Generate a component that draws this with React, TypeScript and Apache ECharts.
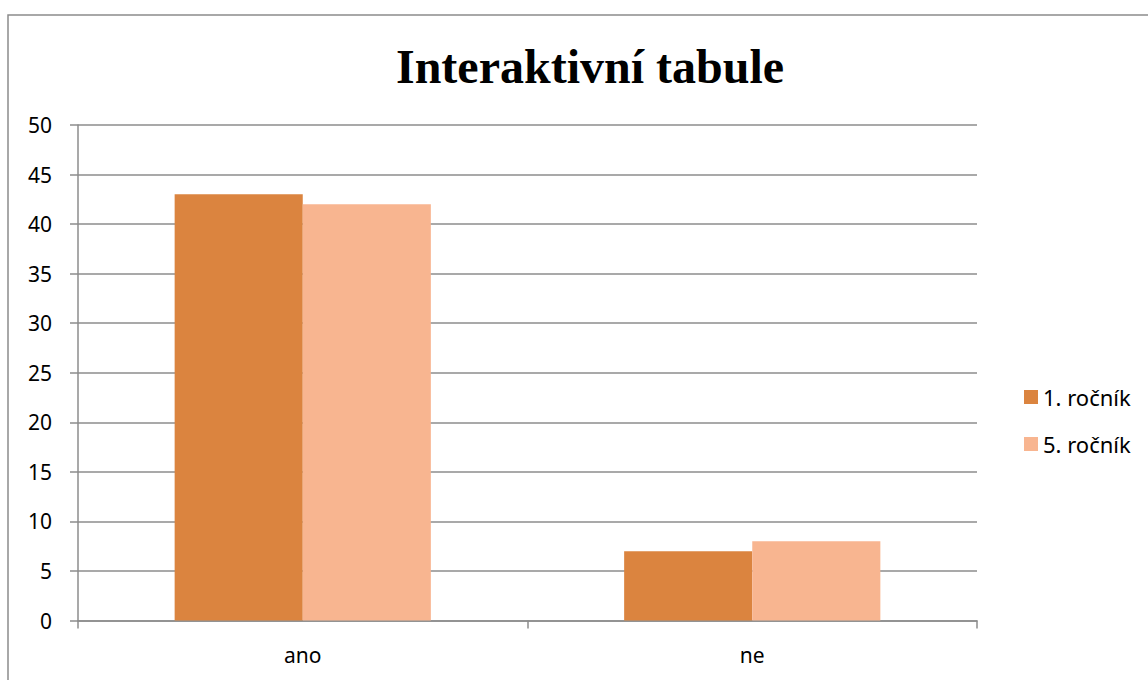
import React, { useEffect, useRef } from "react";
import * as echarts from "echarts";

const categories = ["ano", "ne"];
const seriesNames = ["1. ročník", "5. ročník"];
const rocnik1 = [43, 7];
const rocnik5 = [42, 8];
const titleText = "Interaktivní tabule";

export default function App() {
  const ref = useRef<HTMLDivElement>(null);
  useEffect(() => {
    if (!ref.current) return;
    const chart = echarts.init(ref.current, null, { renderer: "svg" });
    const lineColor = "#8c8c8c";
    const font = "Noto Sans";
    chart.setOption({
      animation: false,
      title: {
        text: titleText,
        left: 585,
        textAlign: "center",
        top: 37,
        textStyle: {
          fontFamily: "Liberation Serif",
          fontWeight: "bold",
          fontSize: 48,
          color: "#000",
        },
      },
      graphic: [
        {
          type: "rect",
          shape: { x: 8, y: 15, width: 1200, height: 720 },
          style: { fill: "none", stroke: lineColor, lineWidth: 1.5 },
          silent: true,
          z: -10,
        },
      ],
      legend: {
        orient: "vertical",
        left: 1019,
        top: 380,
        itemWidth: 14,
        itemHeight: 14,
        itemGap: 23,
        icon: "rect",
        textStyle: { fontFamily: font, fontSize: 22, color: "#000", lineHeight: 24 },
        data: seriesNames,
      },
      grid: { left: 78, right: 171, top: 125, bottom: 59.5, containLabel: false },
      xAxis: {
        type: "category",
        data: categories,
        axisLine: { lineStyle: { color: lineColor, width: 1.5 } },
        axisTick: { show: true, length: 8, lineStyle: { color: lineColor, width: 1.5 } },
        axisLabel: { fontFamily: font, fontSize: 21, color: "#000", margin: 24 },
        splitLine: { show: false },
      },
      yAxis: {
        type: "value",
        min: 0,
        max: 50,
        interval: 5,
        axisLine: { show: true, lineStyle: { color: lineColor, width: 1.5 } },
        axisTick: { show: true, length: 8, lineStyle: { color: lineColor, width: 1.5 } },
        axisLabel: { fontFamily: font, fontSize: 21, color: "#000", margin: 26 },
        splitLine: { show: true, lineStyle: { color: lineColor, width: 1.5 } },
      },
      series: [
        {
          name: seriesNames[0],
          type: "bar",
          data: rocnik1,
          barGap: "0%",
          barCategoryGap: "43%",
          itemStyle: { color: "#DB843F" },
        },
        {
          name: seriesNames[1],
          type: "bar",
          data: rocnik5,
          barGap: "0%",
          barCategoryGap: "43%",
          itemStyle: { color: "#F8B590" },
        },
      ],
    });
    return () => chart.dispose();
  }, []);
  return (
    <div
      ref={ref}
      style={{ position: "fixed", left: 0, top: 0, width: 1148, height: 680, background: "#fff" }}
    />
  );
}
